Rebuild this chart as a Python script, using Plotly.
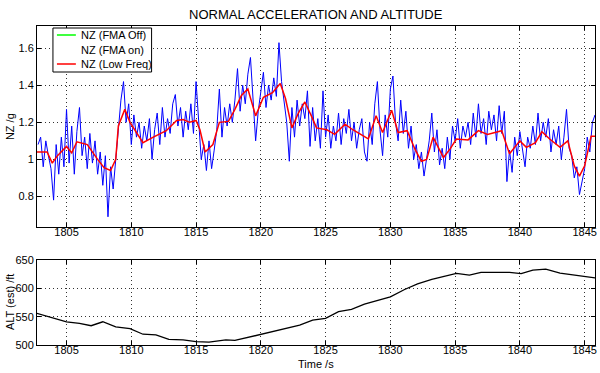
import numpy as np
import plotly.graph_objects as go

# ---- data ----
nz_t0 = 1802.8
nz_dt = 0.2
nz_raw = [1.08,
    1.12, 0.96, 1.10, 1.02, 0.95,
    0.78, 1.08, 0.92, 1.12, 0.96,
    1.27, 0.98, 1.18, 0.92, 1.15,
    1.28, 1.02, 1.12, 0.95, 1.14,
    0.98, 1.10, 0.92, 1.04, 0.86,
    1.02, 0.69, 0.96, 0.84, 1.00,
    1.18, 1.32, 1.42, 1.20, 1.30,
    1.08, 1.24, 1.12, 1.20, 1.06,
    1.18, 1.10, 1.22, 1.00, 1.16,
    1.25, 1.08, 1.28, 1.12, 1.22,
    1.14, 1.30, 1.35, 1.18, 1.28,
    1.12, 1.26, 1.16, 1.30, 1.14,
    1.42, 1.20, 1.00, 1.08, 0.94,
    1.10, 0.95, 1.05, 1.16, 1.38,
    1.12, 1.28, 1.18, 1.30, 1.20,
    1.32, 1.49, 1.26, 1.40, 1.30,
    1.46, 1.55, 1.30, 1.10, 1.26,
    1.36, 1.47, 1.28, 1.40, 1.32,
    1.44, 1.34, 1.63, 1.42, 1.30,
    1.20, 0.99, 1.28, 1.12, 1.32,
    1.18, 1.30, 1.22, 1.37, 1.07,
    1.28, 1.10, 1.22, 1.06, 1.37,
    1.12, 1.24, 1.06, 1.18, 1.10,
    1.25, 1.08, 1.22, 1.14, 1.27,
    1.10, 1.20, 1.06, 1.16, 1.22,
    1.04, 0.99, 1.20, 1.08, 1.30,
    1.42, 1.16, 1.02, 1.24, 1.12,
    1.38, 1.45, 1.20, 1.10, 1.32,
    1.14, 1.26, 1.06, 1.18, 1.00,
    1.08, 0.95, 1.04, 0.91, 1.02,
    1.10, 1.25, 1.04, 1.16, 0.97,
    1.06, 0.95, 1.12, 1.00, 1.18,
    1.10, 1.22, 1.06, 1.18, 1.12,
    1.20, 1.08, 1.25, 1.12, 1.30,
    1.14, 1.22, 1.08, 1.26, 1.16,
    1.24, 1.10, 1.29, 1.14, 1.26,
    0.88, 1.05, 0.93, 1.12, 1.02,
    1.15, 1.04, 0.96, 1.12, 1.06,
    1.18, 1.08, 1.25, 1.10, 1.20,
    1.12, 1.22, 1.04, 1.16, 1.08,
    1.18, 1.00, 1.12, 1.27, 1.06,
    1.02, 0.90, 0.96, 0.81, 0.88,
    0.95, 1.12, 1.04, 1.20, 1.24]

lf_t = [1802.72, 1803.5, 1803.9, 1804.3, 1805.0, 1805.4, 1805.8, 1806.6, 1807.4, 1807.9,
        1808.4, 1808.8, 1809.0, 1809.5, 1809.9, 1810.4, 1810.9, 1811.7, 1812.7, 1813.5,
        1814.0, 1814.5, 1815.0, 1815.3, 1815.7, 1816.3, 1816.8, 1817.5, 1818.0, 1818.5,
        1819.0, 1819.6, 1820.2, 1820.9, 1821.5, 1821.9, 1822.4, 1822.9, 1823.4, 1823.9,
        1824.3, 1825.1, 1825.7, 1826.5, 1827.1, 1828.3, 1828.9, 1829.4, 1830.1, 1830.6,
        1831.3, 1831.9, 1832.4, 1832.8, 1833.3, 1834.1, 1834.6, 1835.1, 1836.0, 1836.8,
        1837.5, 1838.6, 1839.2, 1840.0, 1840.5, 1841.2, 1841.7, 1842.3, 1843.1, 1843.7,
        1844.2, 1844.6, 1845.0, 1845.5, 1845.9]
lf_nz = [1.04, 1.04, 0.98, 1.02, 1.07, 1.035, 1.095, 1.08, 1.0, 0.955,
         0.94, 1.0, 1.18, 1.27, 1.2, 1.145, 1.09, 1.12, 1.155, 1.21,
         1.215, 1.2, 1.21, 1.16, 1.04, 1.08, 1.2, 1.205, 1.27, 1.345,
         1.38, 1.235, 1.335, 1.36, 1.41, 1.33, 1.17, 1.25, 1.31, 1.235,
         1.17, 1.16, 1.135, 1.19, 1.16, 1.11, 1.235, 1.145, 1.265, 1.145,
         1.155, 1.055, 0.99, 1.0, 1.12, 1.01, 1.055, 1.11, 1.105, 1.155,
         1.135, 1.155, 1.03, 1.1, 1.065, 1.09, 1.15, 1.11, 1.065, 1.1,
         0.965, 0.91, 0.965, 1.125, 1.125]

alt_t = [1802.7, 1805.0, 1806.0, 1806.9, 1807.8, 1808.8, 1809.9, 1810.9, 1811.9, 1812.9,
         1814.0, 1815.0, 1816.0, 1817.3, 1818.0, 1820.0, 1823.0, 1824.0, 1825.0, 1826.0,
         1827.0, 1828.0, 1829.0, 1830.0, 1831.1, 1832.1, 1833.2, 1834.2, 1835.1, 1836.1,
         1837.0, 1839.2, 1840.1, 1841.0, 1842.0, 1843.1, 1844.9, 1845.9]
alt_ft = [556, 541, 538, 534, 541, 532, 529, 519, 518, 510,
          509, 506, 505, 509, 508, 519, 535, 544, 547, 559,
          563, 572, 578, 585, 598, 608, 616, 622, 626.5, 623.5,
          628, 628, 626, 632, 634, 627, 622, 618]

x_ticks = [1805, 1810, 1815, 1820, 1825, 1830, 1835, 1840, 1845]
nz_ticks = [0.8, 1, 1.2, 1.4, 1.6]
nz_ticktext = ["0.8", "1", "1.2", "1.4", "1.6"]
alt_ticks = [500, 550, 600, 650]

legend_names = ["NZ (FMA Off)", "NZ (FMA on)", "NZ (Low Freq)"]
legend_colors = ["#00ff00", "#ffffff", "#ff0000"]

nz_time = nz_t0 + nz_dt * np.arange(len(nz_raw))

# ---- figure ----
W, H = 600, 373
ML, MR, MT, MB = 37, 3, 26, 28
pw = W - ML - MR
ph = H - MT - MB


def px(xp):
    return (xp - ML) / pw


def py(yp):
    return (H - MB - yp) / ph


top_dom = [py(227), 1.0]
bot_dom = [0.0, py(260)]

FONT = "Liberation Sans, Arial, sans-serif"

fig = go.Figure()
fig.add_trace(go.Scatter(x=nz_time, y=nz_raw, mode="lines", name=legend_names[0],
                         line=dict(color="#0000ff", width=1), xaxis="x", yaxis="y",
                         showlegend=False, hoverinfo="skip"))
fig.add_trace(go.Scatter(x=lf_t, y=lf_nz, mode="lines", name=legend_names[2],
                         line=dict(color="#ff0000", width=1.5), xaxis="x", yaxis="y",
                         showlegend=False, hoverinfo="skip"))
fig.add_trace(go.Scatter(x=alt_t, y=alt_ft, mode="lines", showlegend=False, hoverinfo="skip",
                         line=dict(color="#000000", width=1.3), xaxis="x2", yaxis="y2"))

axis_common = dict(showline=True, linecolor="black", linewidth=1, mirror="ticks",
                   ticks="inside", ticklen=4, tickcolor="black",
                   showgrid=True, gridcolor="rgba(0,0,0,0.8)", griddash="1px,3px", gridwidth=1,
                   zeroline=False, tickfont=dict(family=FONT, size=11, color="black"))

# manual legend
shapes = [dict(type="rect", xref="paper", yref="paper", x0=px(53), x1=px(152), y0=py(72), y1=py(28),
               fillcolor="white", line=dict(color="black", width=1), layer="above")]
annotations = []
row_y = [35, 50, 64]
for name, col, ry in zip(legend_names, legend_colors, row_y):
    shapes.append(dict(type="line", xref="paper", yref="paper", x0=px(57), x1=px(76),
                       y0=py(ry), y1=py(ry), line=dict(color=col, width=1.5), layer="above"))
    annotations.append(dict(text=name, xref="paper", yref="paper", x=px(79), y=py(ry),
                            xanchor="left", yanchor="middle", showarrow=False,
                            font=dict(family=FONT, size=11, color="black")))

annotations += [
    dict(text="NORMAL ACCELERATION AND ALTITUDE", xref="paper", yref="paper",
         x=0.5, y=py(14), xanchor="center", yanchor="middle", showarrow=False,
         font=dict(family=FONT, size=13)),
    dict(text="NZ /g", xref="paper", yref="paper", x=px(10),
         y=py(127), xanchor="center", yanchor="middle", textangle=-90,
         showarrow=False, font=dict(family=FONT, size=11)),
    dict(text="ALT (est) /ft", xref="paper", yref="paper", x=px(10),
         y=py(302), xanchor="center", yanchor="middle", textangle=-90,
         showarrow=False, font=dict(family=FONT, size=11)),
    dict(text="Time /s", xref="paper", yref="paper", x=0.5,
         y=py(364), xanchor="center", yanchor="middle",
         showarrow=False, font=dict(family=FONT, size=11)),
]

fig.update_layout(
    width=W, height=H,
    margin=dict(l=ML, r=MR, t=MT, b=MB),
    paper_bgcolor="white", plot_bgcolor="white",
    font=dict(family=FONT, size=11, color="black"),
    showlegend=False,
    hovermode=False,
    xaxis=dict(domain=[0, 1], range=[1802.72, 1845.8], tickvals=x_ticks, anchor="y",
               ticklabelstandoff=-5, **axis_common),
    yaxis=dict(domain=top_dom, range=[0.635, 1.72], tickvals=nz_ticks, ticktext=nz_ticktext,
               anchor="x", **axis_common),
    xaxis2=dict(domain=[0, 1], range=[1802.72, 1845.8], tickvals=x_ticks, anchor="y2",
                ticklabelstandoff=-5, **axis_common),
    yaxis2=dict(domain=bot_dom, range=[500, 650], tickvals=alt_ticks, anchor="x2", **axis_common),
    shapes=shapes,
    annotations=annotations,
)

fig.write_html("out.html", config={"displayModeBar": False, "staticPlot": True},
               post_script="document.body.style.margin='0';document.body.style.padding='0';"
                           "document.body.style.overflow='hidden';")
